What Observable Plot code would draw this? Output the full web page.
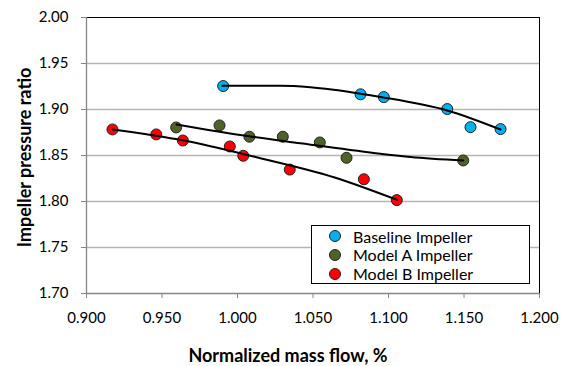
<!DOCTYPE html>
<html><head><meta charset="utf-8">
<script src="https://cdn.jsdelivr.net/npm/d3@7"></script>
<script src="https://cdn.jsdelivr.net/npm/@observablehq/plot@0.6"></script>
<style>
body{margin:0;background:#fff;font-family:Lato,"Open Sans",sans-serif;}
#wrap{position:relative;width:567px;height:366px;}
#legend{position:absolute;left:311px;top:225px;width:219px;height:59px;border:1px solid #000;background:#fff;box-sizing:border-box;}
.row{position:absolute;left:0;height:19px;display:flex;align-items:center;font-size:16px;color:#000;}
.sym{position:absolute;left:17px;width:10px;height:10px;border-radius:50%;border:1px solid #222;box-sizing:content-box;}
.lab{position:absolute;left:41px;white-space:nowrap;}
</style></head>
<body>
<div id="wrap"></div>
<script>
const seriesNames = ["Baseline Impeller", "Model A Impeller", "Model B Impeller"];
const seriesColors = ["#00b0f0", "#4f6228", "#ff0000"];

const baselineFlow = [0.9905, 1.0815, 1.0969, 1.1389, 1.1543, 1.1742];
const baselinePR   = [1.9255, 1.9165, 1.9135, 1.9005, 1.8808, 1.8787];
const modelAFlow = [0.9594, 0.9881, 1.0079, 1.0300, 1.0545, 1.0722, 1.1495];
const modelAPR   = [1.8805, 1.8827, 1.8704, 1.8704, 1.8642, 1.8475, 1.8446];
const modelBFlow = [0.9172, 0.9462, 0.9638, 0.9949, 1.0038, 1.0346, 1.0837, 1.1055];
const modelBPR   = [1.8783, 1.8729, 1.8663, 1.8598, 1.8497, 1.8347, 1.8242, 1.8015];

// trendlines
const baselineTrendFlow = [0.9899, 1.0285, 1.0483, 1.0815, 1.0947, 1.1389, 1.1742];
const baselineTrendPR   = [1.9257, 1.9257, 1.9241, 1.9172, 1.9137, 1.8990, 1.8783];
const modelATrendFlow = [0.9596, 1.0086, 1.0417, 1.0947, 1.1146, 1.1495];
const modelATrendPR   = [1.8838, 1.8707, 1.8634, 1.8519, 1.8484, 1.8446];
const modelBTrendFlow = [0.9172, 0.9644, 1.0119, 1.0638, 1.1058];
const modelBTrendPR   = [1.8783, 1.8663, 1.8484, 1.8264, 1.8017];

const xTicks = [0.9, 0.95, 1.0, 1.05, 1.1, 1.15, 1.2];
const yTicks = [1.70, 1.75, 1.80, 1.85, 1.90, 1.95, 2.00];
const xTitle = "Normalized mass flow, %";
const yTitle = "Impeller pressure ratio";

const pts = [], trend = [];
[[baselineFlow, baselinePR], [modelAFlow, modelAPR], [modelBFlow, modelBPR]].forEach(([xs, ys], i) =>
  xs.forEach((x, j) => pts.push({series: seriesNames[i], x, y: ys[j]})));
[[baselineTrendFlow, baselineTrendPR], [modelATrendFlow, modelATrendPR], [modelBTrendFlow, modelBTrendPR]].forEach(([xs, ys], i) =>
  xs.forEach((x, j) => trend.push({series: seriesNames[i], x, y: ys[j]})));

const axisGray = "#868686";
const chart = Plot.plot({
  width: 567, height: 366,
  marginLeft: 86, marginRight: 28, marginTop: 17, marginBottom: 73,
  style: {fontFamily: "Lato, 'Open Sans', sans-serif", fontSize: "15px", color: "#000", background: "#fff", overflow: "visible"},
  x: {domain: [0.9, 1.2]},
  y: {domain: [1.7, 2.0]},
  color: {domain: seriesNames, range: seriesColors},
  marks: [
    Plot.gridY(yTicks.slice(1, -1), {stroke: "#b4b4b4", strokeOpacity: 1, strokeWidth: 1.3}),
    Plot.frame({stroke: "#000", strokeWidth: 1}),
    Plot.ruleX([0.9], {stroke: axisGray, strokeWidth: 1.3}),
    Plot.ruleY([1.7], {stroke: axisGray, strokeWidth: 1.3}),
    Plot.axisX(xTicks, {tickSize: 5, tickPadding: 14, stroke: axisGray, fill: "#000", tickFormat: d3.format(".3f"), label: null, fontSize: 15}),
    Plot.axisY(yTicks, {tickSize: 5, tickPadding: 13, stroke: axisGray, fill: "#000", tickFormat: d3.format(".2f"), label: null, fontSize: 15}),
    Plot.dot(pts, {x: "x", y: "y", fill: "series", r: 5.5, stroke: "#222", strokeWidth: 1}),
    Plot.line(trend, {x: "x", y: "y", z: "series", curve: "monotone-x", stroke: "#000", strokeWidth: 2}),
    Plot.text([xTitle], {frameAnchor: "bottom", dy: 68, dx: -25, fontWeight: "bold", fontSize: 18, fill: "#000"}),
    Plot.text([yTitle], {frameAnchor: "left", textAnchor: "middle", lineAnchor: "middle", dx: -61, dy: 2, rotate: -90, fontWeight: "bold", fontSize: 18, fill: "#000"})
  ]
});
const wrap = document.getElementById("wrap");
wrap.appendChild(chart);
const leg = document.createElement("div");
leg.id = "legend";
seriesNames.forEach((n, i) => {
  const row = document.createElement("div");
  row.className = "row";
  row.style.top = (0.5 + i * 18.8) + "px";
  row.style.width = "100%";
  row.innerHTML = `<span class="sym" style="background:${seriesColors[i]}"></span><span class="lab">${n}</span>`;
  leg.appendChild(row);
});
wrap.appendChild(leg);
</script>
</body></html>
